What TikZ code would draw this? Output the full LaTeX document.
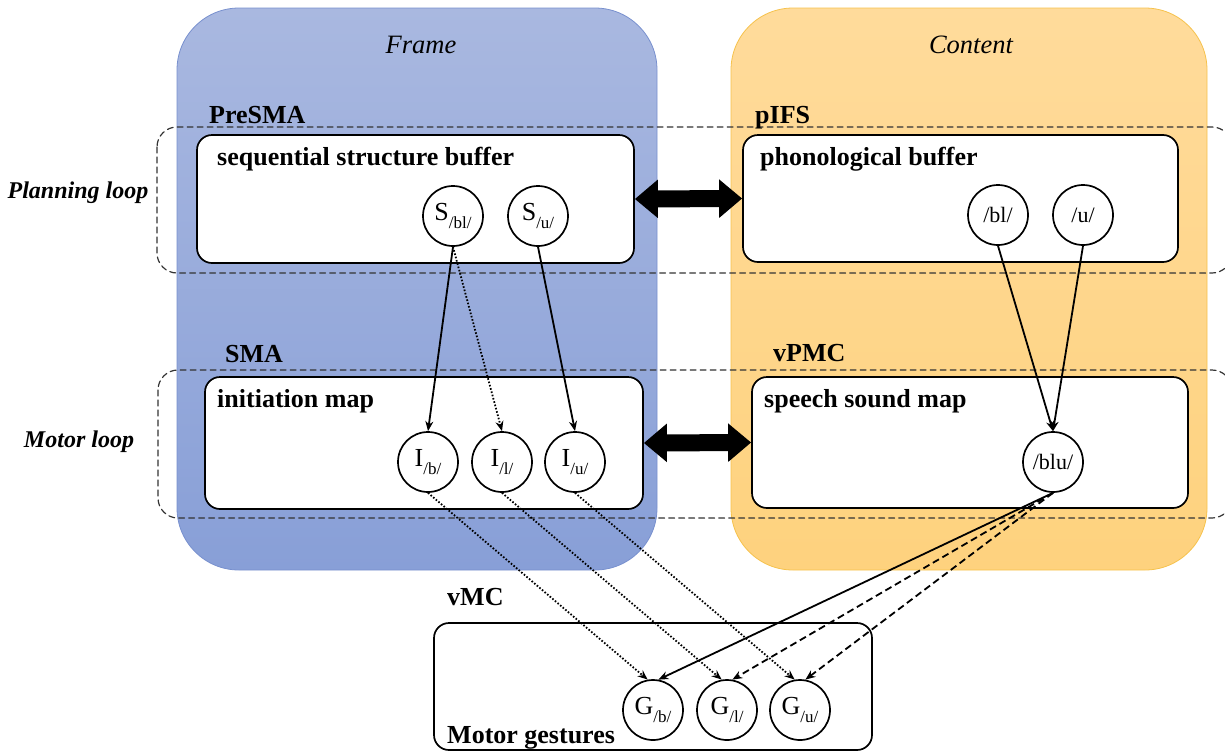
\documentclass[tikz,border=0pt]{standalone}
\usepackage{fontspec}
\setmainfont{Liberation Serif}
\usetikzlibrary{arrows.meta}

\definecolor{frametop}{HTML}{A9B8E0}
\definecolor{framebot}{HTML}{889FD7}
\definecolor{frameline}{HTML}{7890CE}
\definecolor{contop}{HTML}{FFDB9B}
\definecolor{conbot}{HTML}{FED27E}
\definecolor{conline}{HTML}{F6C24C}

% letter with a phoneme subscript
\newcommand{\idx}[2]{#1\raisebox{-0.3em}{\fontsize{17}{17}\selectfont/#2/}}

\begin{document}
\begin{tikzpicture}[x=1pt, y=-1pt, line cap=round, line join=round,
  >={Stealth[length=10pt,width=8pt]},
  buf/.style={draw, fill=white, line width=1.7pt, rounded corners=15pt, inner sep=0pt},
  cell/.style={draw, circle, fill=white, line width=1.7pt, minimum size=60pt, inner sep=0pt,
    font=\fontsize{26}{26}\selectfont},
  phon/.style={cell, font=\fontsize{22}{22}\selectfont},
  hdr/.style={anchor=base west, inner sep=0pt, font=\fontsize{26}{30}\selectfont\bfseries},
  title/.style={anchor=base, inner sep=0pt, font=\fontsize{26.5}{30}\selectfont\itshape},
  looplab/.style={anchor=base, inner sep=0pt, font=\fontsize{24}{28}\selectfont\bfseries\itshape},
  loopbox/.style={draw=black!80, line width=1.2pt, dash pattern=on 6pt off 4pt, rounded corners=20pt},
  link/.style={->, line width=1.8pt},
  fine/.style={link, dash pattern=on 1.6pt off 1.8pt, line cap=butt},
  dashlink/.style={link, dash pattern=on 7pt off 4pt, line cap=butt},
  bigarrow/.style={line width=17pt, line cap=butt,
    {Triangle[length=23pt,width=37pt]}-{Triangle[length=23pt,width=37pt]}}]
  \useasboundingbox (0,0) rectangle (1225,753);

  % frame and content panels
  \shade[top color=frametop, bottom color=framebot, rounded corners=62pt]
    (177,8) rectangle (657,570);
  \draw[frameline, line width=0.8pt, rounded corners=62pt] (177,8) rectangle (657,570);
  \shade[top color=contop, bottom color=conbot, rounded corners=62pt]
    (731,8) rectangle (1207,570);
  \draw[conline, line width=0.8pt, rounded corners=62pt] (731,8) rectangle (1207,570);
  \node[title] (frame) at (421,53) {Frame};
  \node[title] (content) at (971,53) {Content};

  % loops
  \draw[loopbox] (157,127) rectangle (1232,273);
  \draw[loopbox] (158,370) rectangle (1232,518);
  \node[looplab] (planning) at (78,198) {Planning loop};
  \node[looplab] (motor) at (79,447) {Motor loop};

  % buffers and maps
  \node[buf, minimum width=437pt, minimum height=128pt] (seq) at (415.5,199) {};
  \node[buf, minimum width=435pt, minimum height=127pt] (pho) at (960.5,198.5) {};
  \node[buf, minimum width=438pt, minimum height=132pt] (init) at (424,443) {};
  \node[buf, minimum width=436pt, minimum height=131pt] (ssm) at (970,442.5) {};
  \node[buf, minimum width=438pt, minimum height=127pt] (vmc) at (653,686.5) {};

  \node[hdr] (presma) at (209,123) {PreSMA};
  \node[hdr] (pifs) at (755,123) {pIFS};
  \node[hdr] (sma) at (225,362) {SMA};
  \node[hdr] (vpmc) at (773,361) {vPMC};
  \node[hdr] (vmclab) at (447,605) {vMC};
  \node[hdr] (seqlab) at (217,165) {sequential structure buffer};
  \node[hdr] (pholab) at (760,165) {phonological buffer};
  \node[hdr] (initlab) at (217,407) {initiation map};
  \node[hdr] (ssmlab) at (764,407) {speech sound map};
  \node[hdr] (gestlab) at (447,743) {Motor gestures};

  % units
  \node[cell] (Sbl) at (453,216) {\idx{S}{bl}};
  \node[cell] (Su) at (538,216) {\idx{S}{u}};
  \node[phon] (pbl) at (998,215) {/bl/};
  \node[phon] (pu) at (1083,215) {/u/};
  \node[cell] (Ib) at (428,462) {\idx{I}{b}};
  \node[cell] (Il) at (502,462) {\idx{I}{l}};
  \node[cell] (Iu) at (575,462) {\idx{I}{u}};
  \node[phon] (blu) at (1053,462) {/blu/};
  \node[cell] (Gb) at (653,710) {\idx{G}{b}};
  \node[cell] (Gl) at (727,710) {\idx{G}{l}};
  \node[cell] (Gu) at (800,710) {\idx{G}{u}};

  % exchange between frame and content
  \draw[bigarrow] (seq.east) -- (pho.west);
  \draw[bigarrow] (init.east) -- (ssm.west);

  % planning to motor
  \draw[link] (Sbl.south) -- (Ib.north);
  \draw[fine] (Sbl.south) -- (Il.north);
  \draw[link] (Su.south) -- (Iu.north);
  \draw[link] (pbl.south) -- (blu.north);
  \draw[link] (pu.south) -- (blu.north);

  % motor to gestures
  \draw[fine] (Ib.south) -- (Gb.100);
  \draw[fine] (Il.south) -- (Gl.100);
  \draw[fine] (Iu.south) -- (Gu.100);
  \draw[link] (blu.south) -- (Gb.80);
  \draw[dashlink] (blu.south) -- (Gl.80);
  \draw[dashlink] (blu.south) -- (Gu.80);
\end{tikzpicture}
\end{document}
